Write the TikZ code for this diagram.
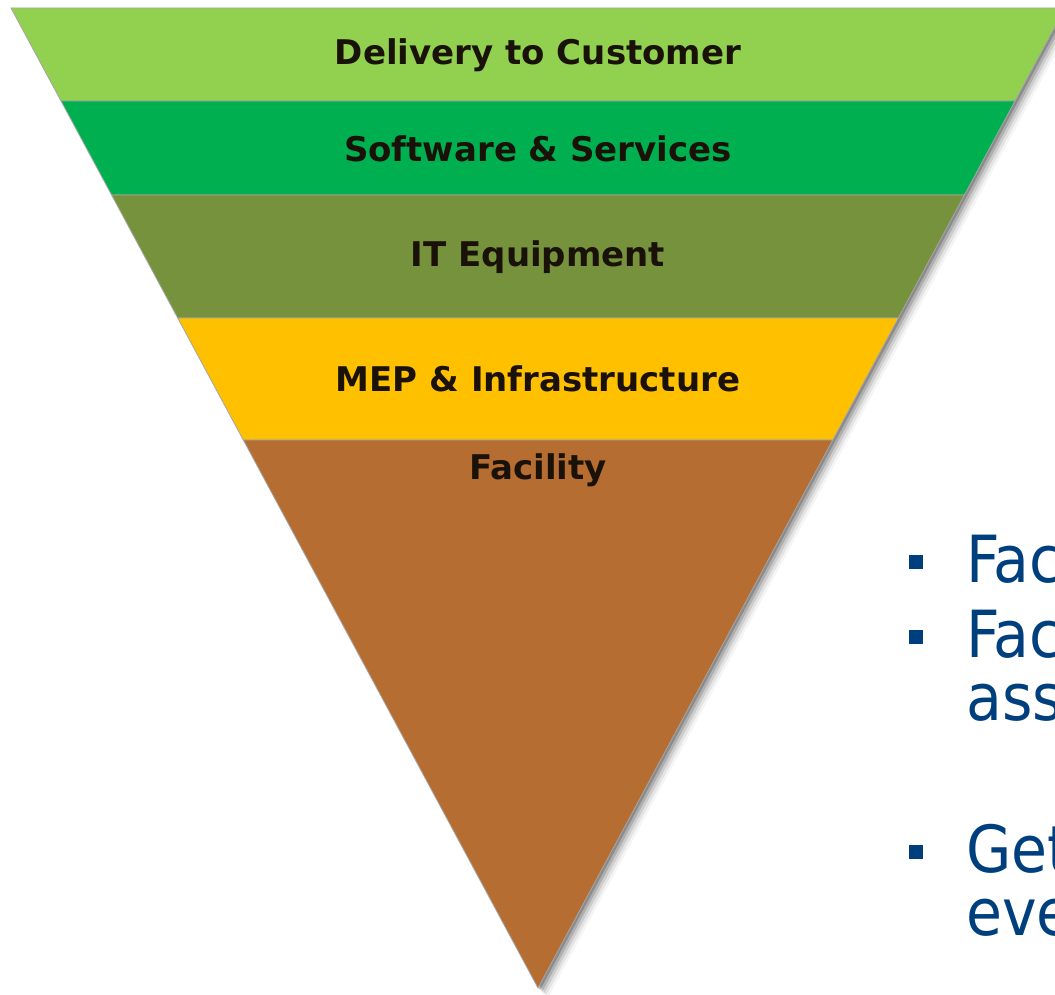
\documentclass[tikz,border=0pt]{standalone}
\usepackage{fontspec}
\setmainfont{DejaVu Sans}
\newfontfamily\layerfont{DejaVu Sans}
\newfontfamily\bulletfont{DejaVu Sans Condensed}
\definecolor{lgreen}{HTML}{92D050}
\definecolor{mgreen}{HTML}{00B050}
\definecolor{olive}{HTML}{76923C}
\definecolor{amber}{HTML}{FFC000}
\definecolor{brown}{HTML}{B56D31}
\definecolor{txtdark}{HTML}{1A1208}
\definecolor{bblue}{HTML}{003F7D}
\tikzset{
  layer/.style={draw=black!35, line width=0.8pt},
  layerlabel/.style={font=\layerfont\bfseries\fontsize{34}{40}\selectfont, text=txtdark, inner sep=0pt},
  bul/.style={fill=bblue, minimum size=14pt, inner sep=0pt},
  btext/.style={font=\bulletfont\fontsize{65}{65}\selectfont, text=bblue, anchor=base west, inner sep=0pt},
}
\begin{document}
\begin{tikzpicture}[x=1pt,y=-1pt]
\useasboundingbox (0,0) rectangle (1055,995);
\begin{scope}
\clip (0,0) rectangle (1055,995);
% shadow
\foreach \d/\o in {10/0.04,8/0.07,6/0.1,4/0.15,2/0.2}{
  \fill[black, opacity=\o] (11+\d,8+\d) -- (1065+\d,8+\d) -- (538+\d,988+\d) -- cycle;
}
\fill[white] (0,0) rectangle (1055,8);
\fill[white] (0,8) -- (11,8) -- (538,988) -- (0,995) -- cycle;
% layers
\path[layer, fill=lgreen] (11,8) -- (1065,8) -- (1015,101) -- (61,101) -- cycle;
\path[layer, fill=mgreen] (61,101) -- (1015,101) -- (964.4,195) -- (111.6,195) -- cycle;
\path[layer, fill=olive] (111.6,195) -- (964.4,195) -- (898.3,318) -- (177.7,318) -- cycle;
\path[layer, fill=amber] (177.7,318) -- (898.3,318) -- (832.7,440) -- (243.3,440) -- cycle;
\path[layer, fill=brown] (243.3,440) -- (832.7,440) -- (538,988) -- cycle;
% labels
\node[layerlabel] (l1) at (538,55) {Delivery to Customer};
\node[layerlabel] (l2) at (538,149) {Software \& Services};
\node[layerlabel] (l3) at (538,257) {IT Equipment};
\node[layerlabel] (l4) at (538,379) {MEP \& Infrastructure};
\node[layerlabel] (l5) at (538,470) {Facility};
% bullets
\node[bul] (b1) at (915.5,562) {};
\node[bul] (b2) at (915.5,637) {};
\node[bul] (b3) at (915.5,852) {};
\node[btext] (t1) at (966,582) {Fac};
\node[btext] (t2) at (966,657) {Fac};
\node[btext] (t2b) at (966,720) {asso};
\node[btext] (t3) at (966,872) {Get};
\node[btext] (t3b) at (966,935) {eve};
\end{scope}
\end{tikzpicture}
\end{document}
